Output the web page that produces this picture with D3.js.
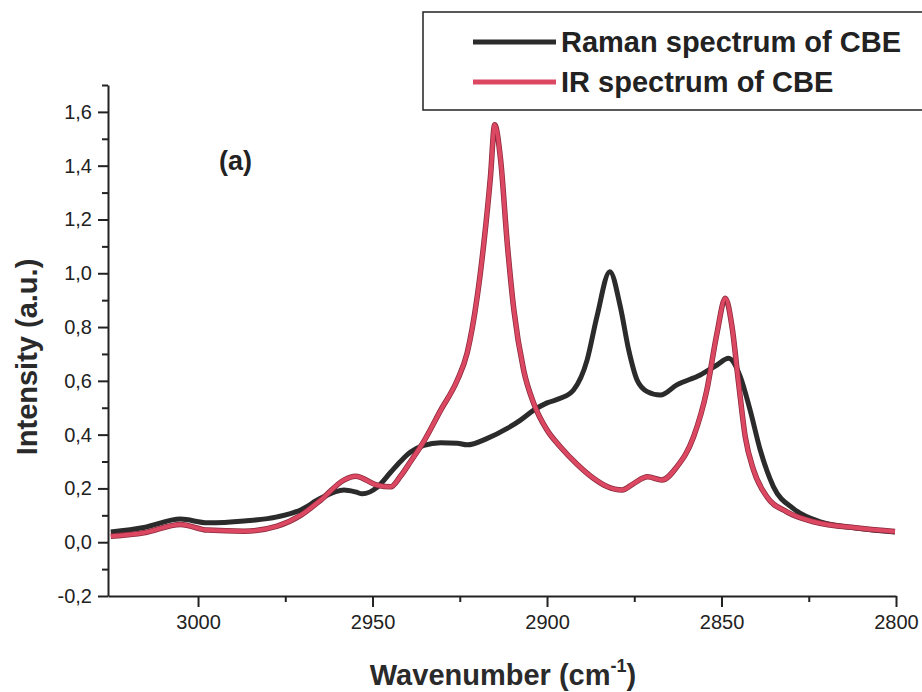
<!DOCTYPE html>
<html lang="en">
	<head>
		<meta charset="utf-8">
		<title>Raman and IR spectrum of CBE</title>
		<script src="https://d3js.org/d3.v7.min.js"></script>
		<style>
			body { margin: 0; background: #fff; }
			svg { font-family: "Liberation Sans", Arial, sans-serif; }
		</style>
	</head>
	<body>
		<script type="text/javascript">
			// window size setup
			var w = 922
			var h = 692

			// Raman spectrum (black)
			var ramanWn = [3025, 3015.5, 3005, 2997.3, 2986.8, 2977.3, 2970.6, 2964.9, 2958.2, 2954.9,
							2952.9, 2948.6, 2944.8, 2942, 2939.1, 2935.3, 2930.5, 2925.7, 2922.9, 2917.1,
							2911.4, 2907.6, 2903.8, 2900, 2896.2, 2892.4, 2888.5, 2885.7, 2882, 2879,
							2876.6, 2874.2, 2871.3, 2867.5, 2862.8, 2856.1, 2851.3, 2848, 2844.6, 2841.8,
							2838.9, 2835.1, 2829.4, 2821.7, 2810.3, 2800.3]
			var ramanI = [0.038, 0.055, 0.086, 0.072, 0.079, 0.094, 0.12, 0.163, 0.194, 0.187,
							0.18, 0.205, 0.26, 0.30, 0.335, 0.36, 0.37, 0.368, 0.362, 0.386,
							0.423, 0.454, 0.491, 0.518, 0.535, 0.566, 0.678, 0.839, 1.006, 0.876,
							0.715, 0.603, 0.56, 0.547, 0.585, 0.622, 0.659, 0.684, 0.615, 0.491,
							0.343, 0.206, 0.125, 0.076, 0.051, 0.038]

			// IR spectrum (red)
			var irWn = [3025, 3015.5, 3005, 2997.3, 2986.8, 2977.3, 2970.6, 2964.9, 2958.2, 2954.9,
						2948.6, 2944.8, 2942, 2939.1, 2935.3, 2930.5, 2925.7, 2922.9, 2920, 2918.1,
						2916.2, 2915, 2913.3, 2911.4, 2909.5, 2906.7, 2903.8, 2900, 2896.2, 2891.4,
						2886.6, 2882.8, 2878.5, 2875.2, 2871.2, 2867.1, 2862.8, 2858, 2854.2, 2851.3,
						2848.9, 2847, 2845.1, 2843.2, 2840.8, 2837, 2831.3, 2823.6, 2810.3, 2800.3]
			var irI = [0.022, 0.035, 0.066, 0.045, 0.041, 0.06, 0.10, 0.156, 0.231, 0.245,
						0.212, 0.206, 0.245, 0.30, 0.375, 0.49, 0.603, 0.703, 0.913, 1.112,
						1.36, 1.552, 1.422, 1.112, 0.864, 0.64, 0.516, 0.417, 0.355, 0.29,
						0.237, 0.207, 0.194, 0.218, 0.243, 0.231, 0.28, 0.392, 0.566, 0.777,
						0.907, 0.802, 0.591, 0.392, 0.268, 0.169, 0.113, 0.076, 0.052, 0.04]

			// ticks
			var xTicks = [3000, 2950, 2900, 2850, 2800]
			var xMinor = [2975, 2925, 2875, 2825]
			var yTicks = [-0.2, 0.0, 0.2, 0.4, 0.6, 0.8, 1.0, 1.2, 1.4, 1.6]
			var yMinor = [-0.1, 0.1, 0.3, 0.5, 0.7, 0.9, 1.1, 1.3, 1.5, 1.7]

			var seriesNames = ["Raman spectrum of CBE", "IR spectrum of CBE"]
			var seriesColors = ["#2b2b2b", "#dc4862"]

			var raman = ramanWn.map(function(d, i){ return { wn: d, v: ramanI[i] } })
			var ir = irWn.map(function(d, i){ return { wn: d, v: irI[i] } })

			// scales (x axis runs from high to low wavenumber)
			var xScale = d3.scaleLinear()
							.domain([3025.8, 2800])
							.range([108, 896])
			var yScale = d3.scaleLinear()
							.domain([-0.2, 1.7])
							.range([596, 85])

			var svg = d3.select("body")
						.append("svg")
						.attr("width", w)
						.attr("height", h)

			// comma decimals, plain hyphen for negatives
			var fmt = function(d){
				var s = Math.abs(d).toFixed(1).replace(".", ",")
				return (d < -1e-9 ? "-" : "") + s
			}

			// x axis
			var xAxis = svg.append("g")
							.attr("transform", "translate(0,596)")
							.call(d3.axisBottom(xScale).tickValues(xTicks).tickSize(11).tickSizeOuter(0).tickPadding(8).tickFormat(d3.format("d")))
			svg.append("g")
				.attr("transform", "translate(0,596)")
				.call(d3.axisBottom(xScale).tickValues(xMinor).tickSize(6).tickSizeOuter(0).tickFormat(""))
				.select(".domain").remove()

			// y axis
			var yAxis = svg.append("g")
							.attr("transform", "translate(108,0)")
							.call(d3.axisLeft(yScale).tickValues(yTicks).tickSize(10).tickSizeOuter(0).tickPadding(6).tickFormat(fmt))
			svg.append("g")
				.attr("transform", "translate(108,0)")
				.call(d3.axisLeft(yScale).tickValues(yMinor).tickSize(6).tickSizeOuter(0).tickFormat(""))
				.select(".domain").remove()

			svg.selectAll(".domain, .tick line")
				.attr("stroke", "#222")
				.attr("stroke-width", 2)
			xAxis.selectAll("text")
				.attr("font-size", "20px")
				.attr("fill", "#222")
			yAxis.selectAll("text")
				.attr("font-size", "20px")
				.attr("fill", "#222")

			// lines
			var line = d3.line()
						.x(function(d){ return xScale(d.wn) })
						.y(function(d){ return yScale(d.v) })
						.curve(d3.curveMonotoneX)

			svg.append("path")
				.datum(raman)
				.attr("d", line)
				.attr("fill", "none")
				.attr("stroke", seriesColors[0])
				.attr("stroke-width", 5)
				.attr("stroke-linejoin", "round")

			svg.append("path")
				.datum(ir)
				.attr("d", line)
				.attr("fill", "none")
				.attr("stroke", "#8a2a3c")
				.attr("stroke-width", 5.5)
				.attr("stroke-linejoin", "round")
			svg.append("path")
				.datum(ir)
				.attr("d", line)
				.attr("fill", "none")
				.attr("stroke", seriesColors[1])
				.attr("stroke-width", 4)
				.attr("stroke-linejoin", "round")

			// axis titles
			svg.append("text")
				.attr("transform", "translate(37,357) rotate(-90)")
				.attr("text-anchor", "middle")
				.attr("font-size", "29px")
				.attr("font-weight", "bold")
				.attr("fill", "#2a2a2a")
				.text("Intensity (a.u.)")

			var xt = svg.append("text")
						.attr("x", 503)
						.attr("y", 685)
						.attr("text-anchor", "middle")
						.attr("font-size", "29px")
						.attr("font-weight", "bold")
						.attr("fill", "#2a2a2a")
			xt.append("tspan").text("Wavenumber (cm")
			xt.append("tspan").attr("font-size", "18px").attr("dy", -13).text("-1")
			xt.append("tspan").attr("dy", 13).text(")")

			// panel label
			svg.append("text")
				.attr("x", 219)
				.attr("y", 170)
				.attr("font-size", "27px")
				.attr("font-weight", "bold")
				.attr("fill", "#222")
				.text("(a)")

			// legend
			var legend = svg.append("g")
			legend.append("rect")
				.attr("x", 423)
				.attr("y", 12)
				.attr("width", 520)
				.attr("height", 98)
				.attr("fill", "#fff")
				.attr("stroke", "#222")
				.attr("stroke-width", 1.5)

			var items = legend.selectAll("g.item")
							.data(seriesNames)
							.enter()
							.append("g")
							.attr("transform", function(d, i){ return "translate(0," + (42 + i * 40) + ")" })
			items.append("line")
				.attr("x1", 473)
				.attr("x2", 556)
				.attr("stroke", function(d, i){ return seriesColors[i] })
				.attr("stroke-width", 5)
			items.append("text")
				.attr("x", 561)
				.attr("y", 10)
				.attr("font-size", "29px")
				.attr("font-weight", "bold")
				.attr("fill", "#222")
				.text(function(d){ return d })
		</script>
	</body>
</html>
